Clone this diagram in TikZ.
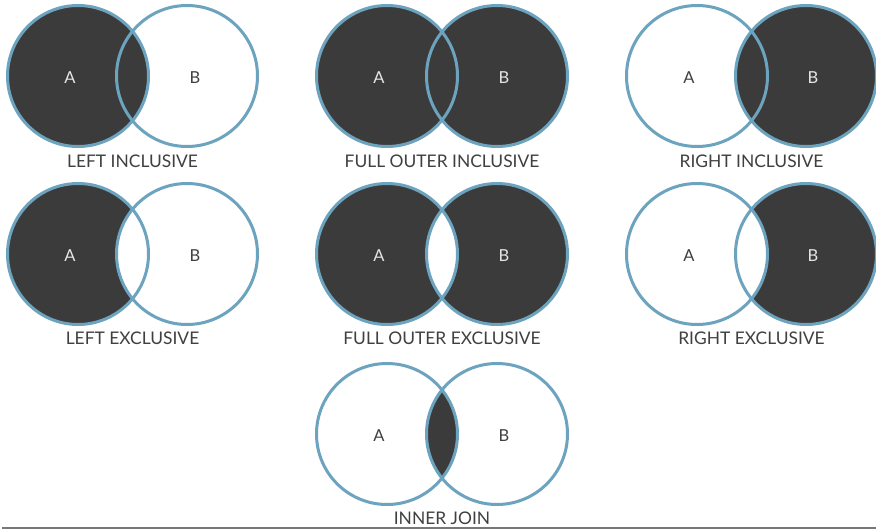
\documentclass[tikz,border=0pt]{standalone}
\usepackage{fontspec}
\setmainfont{Lato}
\definecolor{ringblue}{HTML}{6CA3BF}
\definecolor{darkfill}{HTML}{3B3B3B}
\definecolor{labelgray}{HTML}{404040}
\definecolor{lightletter}{HTML}{E6E6E6}
\definecolor{rulegray}{HTML}{777777}
\begin{document}
\begin{tikzpicture}[x=1pt,y=-1pt,
  ring/.style={draw=ringblue,line width=3pt},
  darkregion/.style={fill=darkfill},
  whiteregion/.style={fill=white},
  caption/.style={font=\fontsize{17.4}{19}\selectfont,text=labelgray,inner sep=0pt},
  letterdark/.style={font=\fontsize{16.5}{18}\selectfont,text=lightletter,inner sep=0pt},
  letterlight/.style={font=\fontsize{16.5}{18}\selectfont,text=labelgray,inner sep=0pt}]
\def\rr{70.5}
\fill[white] (0,0) rectangle (876,530);
\useasboundingbox (0,0) rectangle (876,530);
% Column/row centres
\coordinate (LA1) at (78,76);  \coordinate (LB1) at (187,76);
\coordinate (MA1) at (387,76); \coordinate (MB1) at (497,76);
\coordinate (RA1) at (697,76); \coordinate (RB1) at (806,76);
\coordinate (LA2) at (78,254);  \coordinate (LB2) at (187,254);
\coordinate (MA2) at (387,254); \coordinate (MB2) at (497,254);
\coordinate (RA2) at (697,254); \coordinate (RB2) at (806,254);
\coordinate (MA3) at (387,434); \coordinate (MB3) at (497,434);

% LEFT INCLUSIVE
\fill[darkregion] (LA1) circle (\rr);
\draw[ring] (LA1) circle (\rr);
\draw[ring] (LB1) circle (\rr);
% FULL OUTER INCLUSIVE
\fill[darkregion] (MA1) circle (\rr);
\fill[darkregion] (MB1) circle (\rr);
\draw[ring] (MA1) circle (\rr);
\draw[ring] (MB1) circle (\rr);
% RIGHT INCLUSIVE
\fill[darkregion] (RB1) circle (\rr);
\draw[ring] (RA1) circle (\rr);
\draw[ring] (RB1) circle (\rr);
% LEFT EXCLUSIVE
\fill[darkregion] (LA2) circle (\rr);
\fill[whiteregion] (LB2) circle (\rr);
\draw[ring] (LA2) circle (\rr);
\draw[ring] (LB2) circle (\rr);
% FULL OUTER EXCLUSIVE
\fill[darkregion,even odd rule] (MA2) circle (\rr) (MB2) circle (\rr);
\draw[ring] (MA2) circle (\rr);
\draw[ring] (MB2) circle (\rr);
% RIGHT EXCLUSIVE
\fill[darkregion] (RB2) circle (\rr);
\fill[whiteregion] (RA2) circle (\rr);
\draw[ring] (RA2) circle (\rr);
\draw[ring] (RB2) circle (\rr);
% INNER JOIN
\begin{scope}
  \clip (MA3) circle (\rr);
  \fill[darkregion] (MB3) circle (\rr);
\end{scope}
\draw[ring] (MA3) circle (\rr);
\draw[ring] (MB3) circle (\rr);

% Letters
\node[letterdark]  (tLA1) at (70,78) {A};
\node[letterlight] (tLB1) at (195,78) {B};
\node[letterdark]  (tMA1) at (379,78) {A};
\node[letterdark]  (tMB1) at (504,78) {B};
\node[letterlight] (tRA1) at (689,78) {A};
\node[letterdark]  (tRB1) at (813,78) {B};
\node[letterdark]  (tLA2) at (70,256) {A};
\node[letterlight] (tLB2) at (195,256) {B};
\node[letterdark]  (tMA2) at (379,256) {A};
\node[letterdark]  (tMB2) at (504,256) {B};
\node[letterlight] (tRA2) at (689,256) {A};
\node[letterdark]  (tRB2) at (813,256) {B};
\node[letterlight] (tMA3) at (379,436) {A};
\node[letterlight] (tMB3) at (504,436) {B};

% Captions
\node[caption] (c1) at (132.5,161) {LEFT INCLUSIVE};
\node[caption] (c2) at (442,161) {FULL OUTER INCLUSIVE};
\node[caption] (c3) at (751.5,161) {RIGHT INCLUSIVE};
\node[caption] (c4) at (132.5,338) {LEFT EXCLUSIVE};
\node[caption] (c5) at (442,338) {FULL OUTER EXCLUSIVE};
\node[caption] (c6) at (751.5,338) {RIGHT EXCLUSIVE};
\node[caption] (c7) at (442,518) {INNER JOIN};

% bottom rule
\coordinate (ruleL) at (2,528);
\coordinate (ruleR) at (876,528);
\draw[rulegray,line width=1.5pt] (ruleL) -- (ruleR);
\end{tikzpicture}
\end{document}
